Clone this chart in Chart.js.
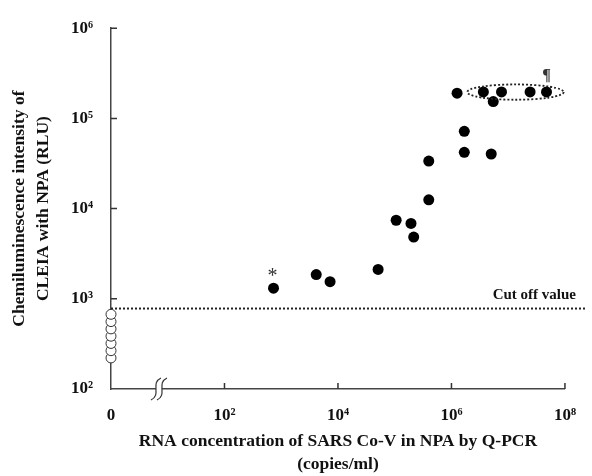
<!DOCTYPE html>
<html>
<head>
<meta charset="utf-8">
<script src="https://cdn.jsdelivr.net/npm/chart.js@4"></script>
<style>
    body { margin: 0; background: #fff; }
</style>
</head>
<body>
<canvas id="myChart" width="592" height="476"></canvas>
<script>
const xTickValues = [1, 1e2, 1e4, 1e6, 1e8];
const xTickLabels = ['0', '10²', '10⁴', '10⁶', '10⁸'];
const yTickValues = [1e2, 1e3, 1e4, 1e5, 1e6];
const yTickLabels = ['10²', '10³', '10⁴', '10⁵', '10⁶'];

const positiveX = [731, 4140, 7260, 51000, 106000, 193600, 216000, 398000, 398000,
    1256000, 1683000, 1683000, 5020000, 3650000, 7620000, 5450000, 24300000, 47300000];
const positiveY = [1312, 1858, 1549, 2118, 7430, 6840, 4840, 12500, 33600,
    190500, 71900, 42100, 40300, 196800, 196800, 153500, 196800, 196800];

const negativeX = [1, 1, 1, 1, 1, 1, 1];
const negativeY = [221, 266, 320, 385, 464, 559, 673];

const cutOffValue = 780;
const groupX = [1.9e6, 9.5e7];
const groupY = [161000, 238000];
const markIndex = [0, 17];
const markSymbol = ['*', '¶'];
const breakX = 7;

const serif = "'Liberation Serif', 'Times New Roman', serif";

const extras = {
    id: 'extras',
    beforeDatasetsDraw(chart) {
        const ctx = chart.ctx;
        const x = chart.scales.x;
        const y = chart.scales.y;
        const area = chart.chartArea;
        ctx.save();

        ctx.strokeStyle = '#333';
        ctx.lineWidth = 1.5;
        ctx.beginPath();
        xTickValues.slice(1).forEach(function (v) {
            const px = x.getPixelForValue(v);
            ctx.moveTo(px, area.bottom);
            ctx.lineTo(px, area.bottom - 6);
        });
        yTickValues.slice(1).forEach(function (v) {
            const py = y.getPixelForValue(v);
            ctx.moveTo(area.left, py);
            ctx.lineTo(area.left + 6, py);
        });
        ctx.stroke();

        const cy = y.getPixelForValue(cutOffValue);
        ctx.strokeStyle = '#222';
        ctx.lineWidth = 2;
        ctx.setLineDash([2, 2]);
        ctx.beginPath();
        ctx.moveTo(area.left, cy);
        ctx.lineTo(chart.width - 6, cy);
        ctx.stroke();
        ctx.setLineDash([]);

        ctx.fillStyle = '#111';
        ctx.font = 'bold 15px ' + serif;
        ctx.textAlign = 'right';
        ctx.textBaseline = 'middle';
        ctx.fillText('Cut off value', chart.width - 16, cy - 13);

        const bx = x.getPixelForValue(breakX);
        const by = area.bottom;
        ctx.fillStyle = '#fff';
        ctx.fillRect(bx - 3, by - 2, 6, 4);
        ctx.strokeStyle = '#333';
        ctx.lineWidth = 1.2;
        [-3, 3].forEach(function (d) {
            ctx.beginPath();
            ctx.moveTo(bx + d + 5, by - 11);
            ctx.bezierCurveTo(bx + d - 6, by - 6, bx + d + 6, by + 6, bx + d - 5, by + 11);
            ctx.stroke();
        });
        ctx.restore();
    },
    afterDatasetsDraw(chart) {
        const ctx = chart.ctx;
        const x = chart.scales.x;
        const y = chart.scales.y;
        ctx.save();

        const x0 = x.getPixelForValue(groupX[0]);
        const x1 = x.getPixelForValue(groupX[1]);
        const y0 = y.getPixelForValue(groupY[0]);
        const y1 = y.getPixelForValue(groupY[1]);
        ctx.strokeStyle = '#222';
        ctx.lineWidth = 1.8;
        ctx.setLineDash([2, 2]);
        ctx.beginPath();
        ctx.ellipse((x0 + x1) / 2, (y0 + y1) / 2, (x1 - x0) / 2, Math.abs(y0 - y1) / 2, 0, 0, Math.PI * 2);
        ctx.stroke();
        ctx.setLineDash([]);

        const points = chart.getDatasetMeta(0).data;
        ctx.fillStyle = '#333';
        ctx.textAlign = 'center';
        ctx.textBaseline = 'middle';
        ctx.font = '20px ' + serif;
        ctx.fillText(markSymbol[0], points[markIndex[0]].x - 1, points[markIndex[0]].y - 11);
        ctx.font = 'bold 16px ' + serif;
        ctx.fillText(markSymbol[1], points[markIndex[1]].x, points[markIndex[1]].y - 16);
        ctx.restore();
    }
};

function toPoints(xs, ys) {
    return xs.map(function (v, i) {
        return { x: v, y: ys[i] };
    });
}

function createChart() {
    const ctx = document.getElementById('myChart').getContext('2d');
    new Chart(ctx, {
        type: 'scatter',
        data: {
            datasets: [
                {
                    label: 'positive',
                    data: toPoints(positiveX, positiveY),
                    backgroundColor: '#000',
                    borderWidth: 0,
                    pointRadius: 5.5,
                    clip: false,
                },
                {
                    label: 'negative',
                    data: toPoints(negativeX, negativeY),
                    backgroundColor: '#fff',
                    borderColor: '#333',
                    borderWidth: 1,
                    pointRadius: 5,
                    clip: false,
                },
            ],
        },
        options: {
            responsive: false,
            animation: false,
            layout: { padding: { top: 17, right: 20, left: 0, bottom: 0 } },
            plugins: {
                legend: { display: false },
                tooltip: { enabled: false },
            },
            scales: {
                x: {
                    type: 'logarithmic',
                    min: 1,
                    max: 1e8,
                    afterBuildTicks: function (scale) {
                        scale.ticks = xTickValues.map(function (v) { return { value: v }; });
                    },
                    afterFit: function (scale) {
                        scale.height = 87;
                    },
                    grid: { display: false, drawTicks: false },
                    border: { color: '#444', width: 1.5 },
                    ticks: {
                        padding: 16,
                        color: '#111',
                        maxRotation: 0,
                        autoSkip: false,
                        font: { family: serif, size: 17, weight: 'bold' },
                        callback: function (value, index) {
                            return xTickLabels[index];
                        },
                    },
                    title: {
                        display: true,
                        text: ['RNA concentration of SARS Co-V in NPA by Q-PCR', '(copies/ml)'],
                        color: '#111',
                        padding: { top: 0, bottom: 0 },
                        font: { family: serif, size: 17.5, weight: 'bold', lineHeight: 1.3 },
                    },
                },
                y: {
                    type: 'logarithmic',
                    min: 1e2,
                    max: 1e6,
                    afterBuildTicks: function (scale) {
                        scale.ticks = yTickValues.map(function (v) { return { value: v }; });
                    },
                    afterFit: function (scale) {
                        scale.width = 111;
                    },
                    grid: { display: false, drawTicks: false },
                    border: { color: '#444', width: 1.5 },
                    ticks: {
                        padding: 18,
                        color: '#111',
                        autoSkip: false,
                        font: { family: serif, size: 17, weight: 'bold' },
                        callback: function (value, index) {
                            return yTickLabels[index];
                        },
                    },
                    title: {
                        display: true,
                        text: ['Chemiluminescence intensity of', 'CLEIA with NPA (RLU)'],
                        color: '#111',
                        padding: { top: 7, bottom: 0 },
                        font: { family: serif, size: 17.5, weight: 'bold', lineHeight: 1.4 },
                    },
                },
            },
        },
        plugins: [extras],
    });
}

createChart();
</script>
</body>
</html>
